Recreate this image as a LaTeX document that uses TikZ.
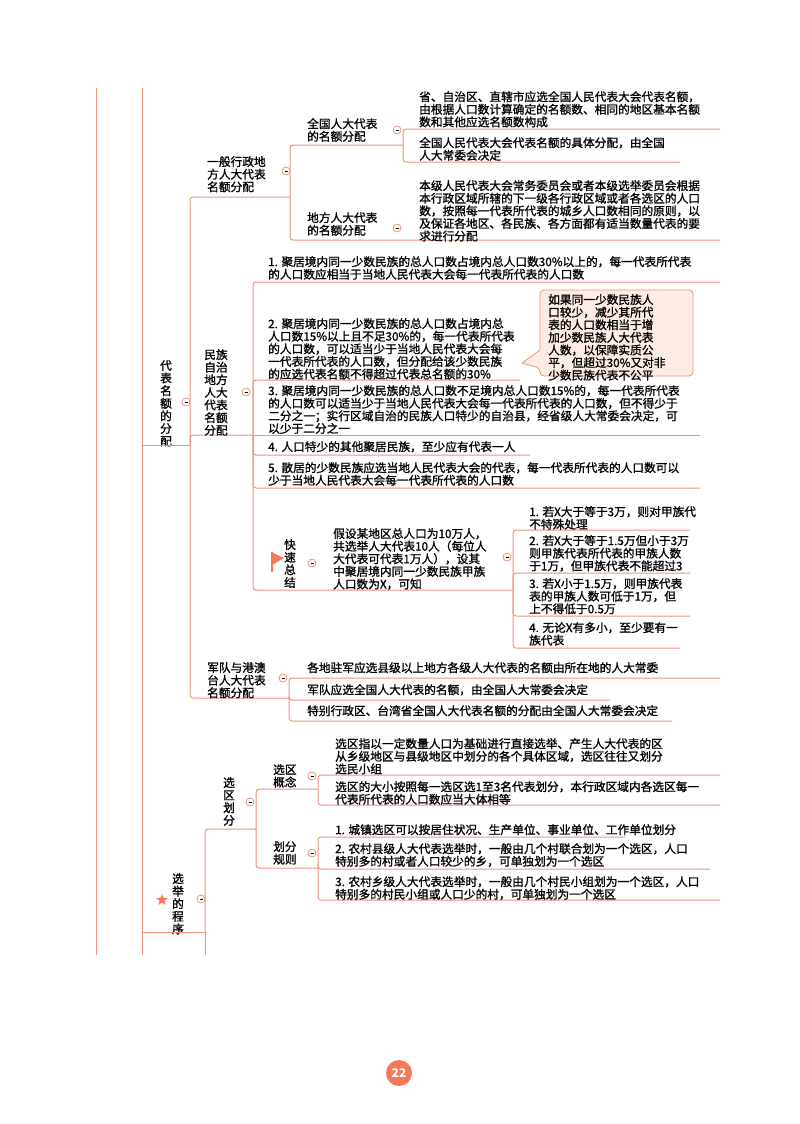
\documentclass[tikz,border=0pt]{standalone}
\usepackage{fontspec}
\setmainfont{Noto Sans CJK SC}
\newfontfamily\cjk[FakeBold=1.2]{Noto Sans CJK SC}
\usetikzlibrary{shapes.geometric,calc}
\definecolor{linec}{RGB}{238,146,124}
\definecolor{notefill}{RGB}{253,236,229}
\definecolor{pagec}{RGB}{244,120,90}
\tikzset{
  ln/.style={draw=linec, line width=1pt, rounded corners=3pt},
  txt/.style={anchor=north west, inner sep=0pt, align=left,
              font=\cjk\fontsize{11.7}{12.6}\selectfont},
  vtxt/.style={anchor=north, inner sep=0pt, align=center,
               font=\cjk\fontsize{11.7}{12.6}\selectfont},
  fold/.style={circle, draw=linec, fill=white, line width=0.8pt,
               minimum size=8pt, inner sep=0pt,
               path picture={\draw[black,line width=0.7pt]
                 ([xshift=-1.5pt]path picture bounding box.center) --
                 ([xshift=1.5pt]path picture bounding box.center);}}
}
\begin{document}
\begin{tikzpicture}[x=1pt, y=-1pt]
\useasboundingbox (0,0) rectangle (800,1124);

% main trunks
\draw[ln] (96,88) -- (96,955);
\draw[ln] (142,88) -- (142,955);

% ---- 代表名额的分配
\node[vtxt] (rootA) at (166,360) {代\\表\\名\\额\\的\\分\\配};
\node[fold] (fRootA) at (186,402) {};
\draw[ln] (142,445) -- (190,445);
\draw[ln] (190,445) |- (290,197);
\draw[ln] (190,445) |- (253,435);
\draw[ln] (190,445) |- (289,698);

% 一般行政地方
\node[txt] (gen) at (207,156) {一般行政地\\方人大代表\\名额分配};
\node[fold] (fGen) at (286,171) {};
\draw[ln] (290,197) |- (403,145);
\draw[ln] (290,197) |- (720,240);
\node[txt] (natl) at (307,118) {全国人大代表\\的名额分配};
\node[fold] (fNatl) at (397,130) {};
\draw[ln] (403,145) |- (720,129);
\draw[ln] (403,145) |- (680,162);
\node[txt] (natlA) at (419,91) {省、自治区、直辖市应选全国人民代表大会代表名额，\\由根据人口数计算确定的名额数、相同的地区基本名额\\数和其他应选名额数构成};
\node[txt] (natlB) at (419,137) {全国人民代表大会代表名额的具体分配，由全国\\人大常委会决定};
\node[txt] (loc) at (307,212) {地方人大代表\\的名额分配};
\node[fold] (fLoc) at (397,228) {};
\node[txt] (locA) at (419,180) {本级人民代表大会常务委员会或者本级选举委员会根据\\本行政区域所辖的下一级各行政区域或者各选区的人口\\数，按照每一代表所代表的城乡人口数相同的原则，以\\及保证各地区、各民族、各方面都有适当数量代表的要\\求进行分配};

% 民族自治地方
\node[vtxt] (eth) at (216,349) {民族\\自治\\地方\\人大\\代表\\名额\\分配};
\node[fold] (fEth) at (246,392) {};
\draw[ln] (253,435) |- (720,282);
\draw[ln] (253,435) |- (520,380);
\draw[ln] (253,435) -- (700,435);
\draw[ln] (253,435) |- (530,455);
\draw[ln] (253,435) |- (700,488);
\draw[ln] (253,435) |- (513,590);
\node[txt] (eth1) at (268,256) {1. 聚居境内同一少数民族的总人口数占境内总人口数30\%以上的，每一代表所代表\\的人口数应相当于当地人民代表大会每一代表所代表的人口数};
\node[txt] (eth2) at (268,318) {2. 聚居境内同一少数民族的总人口数占境内总\\人口数15\%以上且不足30\%的，每一代表所代表\\的人口数，可以适当少于当地人民代表大会每\\一代表所代表的人口数，但分配给该少数民族\\的应选代表名额不得超过代表总名额的30\%};
\draw[draw=linec, fill=notefill, line width=0.8pt, rounded corners=4pt]
  (540,290) -- (693,290) -- (693,376) -- (540,376) -- (540,368)
  [sharp corners] -- (522,363) -- (540,350) [rounded corners=4pt] -- cycle;
\node[txt] (note) at (548,294) {如果同一少数民族人\\口较少，减少其所代\\表的人口数相当于增\\加少数民族人大代表\\人数，以保障实质公\\平，但超过30\%又对非\\少数民族代表不公平};
\node[txt] (eth3) at (268,385) {3. 聚居境内同一少数民族的总人口数不足境内总人口数15\%的，每一代表所代表\\的人口数可以适当少于当地人民代表大会每一代表所代表的人口数，但不得少于\\二分之一；实行区域自治的民族人口特少的自治县，经省级人大常委会决定，可\\以少于二分之一};
\node[txt] (eth4) at (268,441) {4. 人口特少的其他聚居民族，至少应有代表一人};
\node[txt] (eth5) at (268,462) {5. 散居的少数民族应选当地人民代表大会的代表，每一代表所代表的人口数可以\\少于当地人民代表大会每一代表所代表的人口数};

% 快速总结
\fill[pagec] (271,552) -- (284,558) -- (272,565) -- cycle;
\draw[pagec, line width=1.3pt] (272,552) -- (272,572);
\node[vtxt] (quick) at (290,539) {快\\速\\总\\结};
\node[fold] (fQuick) at (312,563) {};
\node[txt] (quickT) at (333,528) {假设某地区总人口为10万人，\\共选举人大代表10人（每位人\\大代表可代表1万人），设其\\中聚居境内同一少数民族甲族\\人口数为X，可知};
\node[fold] (fQuickT) at (507,557) {};
\draw[ln] (513,590) |- (690,530);
\draw[ln] (513,590) |- (690,573);
\draw[ln] (513,590) |- (690,616);
\draw[ln] (513,590) |- (680,648);
\node[txt] (q1) at (529,506) {1. 若X大于等于3万，则对甲族代\\不特殊处理};
\node[txt] (q2) at (529,535) {2. 若X大于等于1.5万但小于3万\\则甲族代表所代表的甲族人数\\于1万，但甲族代表不能超过3};
\node[txt] (q3) at (529,578) {3. 若X小于1.5万，则甲族代表\\表的甲族人数可低于1万，但\\上不得低于0.5万};
\node[txt] (q4) at (529,622) {4. 无论X有多小，至少要有一\\族代表};

% 军队与港澳台
\node[txt] (army) at (207,662) {军队与港澳\\台人大代表\\名额分配};
\node[fold] (fArmy) at (283,678) {};
\draw[ln] (289,698) |- (720,678);
\draw[ln] (289,698) -- (289,700) -- (610,700);
\draw[ln] (289,698) |- (672,721);
\node[txt] (army1) at (307,662) {各地驻军应选县级以上地方各级人大代表的名额由所在地的人大常委};
\node[txt] (army2) at (307,684) {军队应选全国人大代表的名额，由全国人大常委会决定};
\node[txt] (army3) at (307,705) {特别行政区、台湾省全国人大代表名额的分配由全国人大常委会决定};

% ---- 选举的程序
\node[star, star points=5, star point ratio=2.4, fill=pagec, inner sep=0pt,
      minimum size=12pt] (star) at (162,900) {};
\node[vtxt] (proc) at (178,873) {选\\举\\的\\程\\序};
\node[fold] (fProc) at (201,899) {};
\draw[ln] (142,932) -- (205,932);
\draw[ln] (205,932) |- (256,829);
\draw[ln] (205,932) -- (205,955);
\node[vtxt] (dist) at (229,777) {选\\区\\划\\分};
\node[fold] (fDist) at (250,802) {};
\draw[ln] (256,829) |- (318,789);
\draw[ln] (256,829) |- (318,868);
\node[txt] (concept) at (273,764) {选区\\概念};
\node[fold] (fConcept) at (312,776) {};
\draw[ln] (318,789) |- (720,775);
\draw[ln] (318,789) |- (720,805);
\node[txt] (con1) at (335,738) {选区指以一定数量人口为基础进行直接选举、产生人大代表的区\\从乡级地区与县级地区中划分的各个具体区域，选区往往又划分\\选民小组};
\node[txt] (con2) at (335,781) {选区的大小按照每一选区选1至3名代表划分，本行政区域内各选区每一\\代表所代表的人口数应当大体相等};
\node[txt] (rule) at (273,841) {划分\\规则};
\node[fold] (fRule) at (312,853) {};
\draw[ln] (318,868) |- (625,837);
\draw[ln] (318,868) |- (710,869);
\draw[ln] (318,868) |- (720,900);
\node[txt] (rule1) at (335,824) {1. 城镇选区可以按居住状况、生产单位、事业单位、工作单位划分};
\node[txt] (rule2) at (335,843) {2. 农村县级人大代表选举时，一般由几个村联合划为一个选区，人口\\特别多的村或者人口较少的乡，可单独划为一个选区};
\node[txt] (rule3) at (335,876) {3. 农村乡级人大代表选举时，一般由几个村民小组划为一个选区，人口\\特别多的村民小组或人口少的村，可单独划为一个选区};

% page number
\node[circle, fill=pagec, minimum size=26pt, inner sep=0pt, text=white,
      font=\fontsize{12}{12}\bfseries\selectfont] (page) at (399,1073) {22};
\end{tikzpicture}
\end{document}
